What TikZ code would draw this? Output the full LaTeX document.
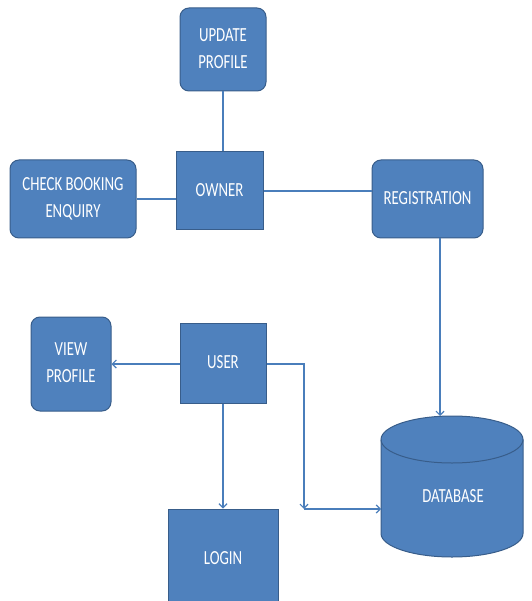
\documentclass[tikz,border=0pt]{standalone}
\usepackage{fontspec}
\setmainfont{Carlito}
\usetikzlibrary{arrows.meta}
\definecolor{boxfill}{HTML}{4F81BD}
\definecolor{boxline}{HTML}{385D8A}
\definecolor{conn}{HTML}{4A7EBB}
\newcommand{\lbl}[1]{\scalebox{0.74}[1]{\begin{tabular}{@{}c@{}}#1\end{tabular}}}
\tikzset{
  base/.style={fill=boxfill, draw=boxline, line width=1pt, text=white, font=\fontsize{20}{27}\selectfont, inner sep=0pt},
  sharpbox/.style={base, rectangle},
  roundbox/.style={base, rectangle, rounded corners=9pt},
  link/.style={draw=conn, line width=1.2pt},
  arr/.style={link, -{Straight Barb[length=4pt,width=8pt]}}
}
\begin{document}
\begin{tikzpicture}[x=1pt,y=-1pt]
\useasboundingbox (0,0) rectangle (531,601);
\node[roundbox, minimum width=86pt, minimum height=83pt] (update) at (223,49.5) {\lbl{UPDATE\\PROFILE}};
\node[sharpbox, minimum width=87pt, minimum height=78pt] (owner) at (219.5,191) {\lbl{OWNER}};
\node[roundbox, minimum width=126pt, minimum height=78pt] (check) at (73,199) {\lbl{CHECK BOOKING\\ENQUIRY}};
\node[roundbox, minimum width=111pt, minimum height=78pt] (reg) at (427.5,199) {\lbl{REGISTRATION}};
\node[roundbox, minimum width=80pt, minimum height=94pt] (view) at (71,364) {\lbl{VIEW\\PROFILE}};
\node[sharpbox, minimum width=86pt, minimum height=80pt] (user) at (223,363) {\lbl{USER}};
\node[sharpbox, minimum width=110pt, minimum height=100pt] (login) at (223,559) {\lbl{LOGIN}};
% database cylinder
\draw[fill=boxfill, draw=boxline, line width=1pt]
  (381,439.5) -- (381,533.5) arc[start angle=180, end angle=0, x radius=71, y radius=23.5]
  -- (523,439.5) arc[start angle=0, end angle=-180, x radius=71, y radius=23.5] -- cycle;
\draw[draw=boxline, line width=1pt] (381,439.5) arc[start angle=180, end angle=0, x radius=71, y radius=23.5];
\node[text=white, font=\fontsize{20}{27}\selectfont, inner sep=0pt] (db) at (453,497) {\lbl{DATABASE}};
\coordinate (dbtop) at (440,416);
\coordinate (dbleft) at (381,509);
\coordinate (corner) at (304,509);
% connectors
\draw[link] (update.south) -- (update.south |- owner.north);
\draw[link] (check.east) -- (check.east -| owner.west);
\draw[link] (owner.east) -- (owner.east -| reg.west);
\draw[arr] (reg.south -| dbtop) -- (dbtop);
\draw[arr] (user.west |- view.east) -- (view.east);
\draw[arr] (user.south) -- (login.north);
\draw[arr] (user.east |- 0,364) -| (corner);
\draw[arr] (corner) -- (dbleft);
\end{tikzpicture}
\end{document}
